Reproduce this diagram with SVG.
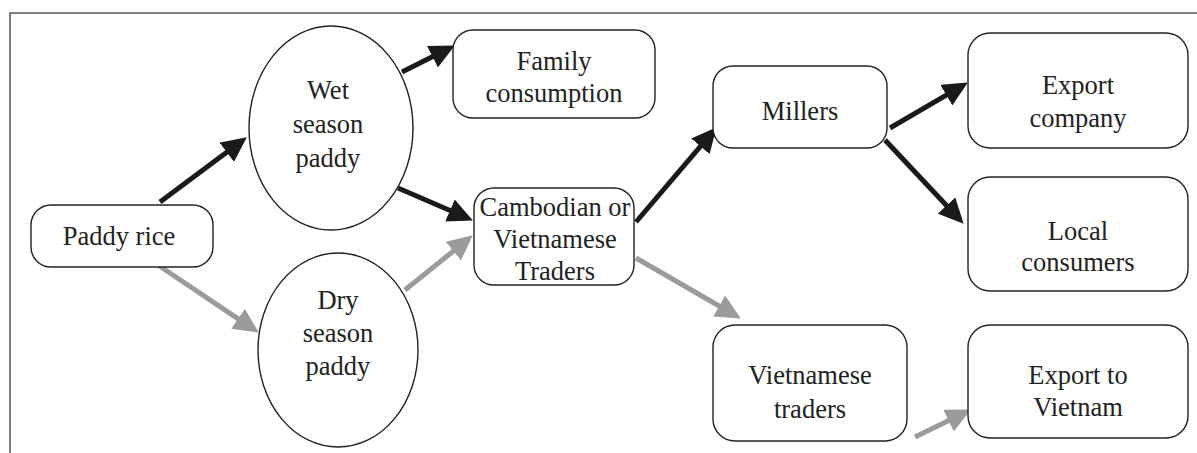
<svg xmlns="http://www.w3.org/2000/svg" width="1197" height="453" viewBox="0 0 1197 453">
<style>
.box{fill:#fff;stroke:#222;stroke-width:1.4}
.t{font-family:"Liberation Serif","Times New Roman",serif;font-size:26.5px;fill:#222;text-anchor:middle}
.blk{stroke:#1a1a1a;stroke-width:5;fill:none}
.gry{stroke:#9b9b9d;stroke-width:5;fill:none}
.frame{stroke:#5a5a5a;stroke-width:1.6;fill:none}
</style>
<defs>
<marker id="hb" markerUnits="userSpaceOnUse" markerWidth="25" markerHeight="24" refX="2" refY="12" orient="auto"><path d="M0,0 L25,12 L0,24 z" fill="#1a1a1a"/></marker>
<marker id="hg" markerUnits="userSpaceOnUse" markerWidth="25" markerHeight="24" refX="2" refY="12" orient="auto"><path d="M0,0 L25,12 L0,24 z" fill="#9b9b9d"/></marker>
</defs>
<rect width="1197" height="453" fill="#fff"/>
<path class="frame" d="M10,453 V13 H1197"/>
<g id="connectors">
<line class="blk" x1="160" y1="202" x2="228.4" y2="151.1" marker-end="url(#hb)"/>
<line class="blk" x1="402" y1="72" x2="434.3" y2="55.8" marker-end="url(#hb)"/>
<line class="blk" x1="398" y1="188" x2="451.8" y2="211.3" marker-end="url(#hb)"/>
<line class="blk" x1="636" y1="222" x2="701.7" y2="144.8" marker-end="url(#hb)"/>
<line class="blk" x1="890" y1="128" x2="948" y2="94.1" marker-end="url(#hb)"/>
<line class="blk" x1="885" y1="140" x2="947.9" y2="207" marker-end="url(#hb)"/>
<line class="gry" x1="158" y1="265" x2="239.7" y2="319.8" marker-end="url(#hg)"/>
<line class="gry" x1="405" y1="290" x2="454.9" y2="249.8" marker-end="url(#hg)"/>
<line class="gry" x1="636" y1="258" x2="720.9" y2="307" marker-end="url(#hg)"/>
<line class="gry" x1="915" y1="437" x2="950.3" y2="419.7" marker-end="url(#hg)"/>
</g>
<g id="paddy-rice"><rect class="box" x="31" y="205" width="182" height="62" rx="20"/><text class="t" x="119" y="245">Paddy rice</text></g>
<g id="wet-season"><ellipse class="box" cx="331" cy="128" rx="82" ry="102"/><text class="t" x="328" y="99">Wet</text><text class="t" x="328" y="133">season</text><text class="t" x="328" y="167">paddy</text></g>
<g id="dry-season"><ellipse class="box" cx="338" cy="350" rx="80" ry="97"/><text class="t" x="338" y="309">Dry</text><text class="t" x="338" y="342">season</text><text class="t" x="338" y="375">paddy</text></g>
<g id="family"><rect class="box" x="453" y="30" width="202" height="88" rx="20"/><text class="t" x="554" y="70">Family</text><text class="t" x="554" y="102">consumption</text></g>
<g id="traders"><rect class="box" x="474" y="188" width="160" height="97" rx="20"/><text class="t" x="555" y="216">Cambodian or</text><text class="t" x="555" y="248">Vietnamese</text><text class="t" x="555" y="280">Traders</text></g>
<g id="millers"><rect class="box" x="713" y="66" width="174" height="82" rx="20"/><text class="t" x="800" y="120">Millers</text></g>
<g id="export-company"><rect class="box" x="968" y="33" width="220" height="115" rx="22"/><text class="t" x="1078" y="94">Export</text><text class="t" x="1078" y="127">company</text></g>
<g id="local-consumers"><rect class="box" x="968" y="177" width="220" height="114" rx="22"/><text class="t" x="1078" y="240">Local</text><text class="t" x="1078" y="271">consumers</text></g>
<g id="vietnamese-traders"><rect class="box" x="713" y="325" width="194" height="116" rx="22"/><text class="t" x="810" y="384">Vietnamese</text><text class="t" x="810" y="418">traders</text></g>
<g id="export-vietnam"><rect class="box" x="968" y="325" width="220" height="113" rx="22"/><text class="t" x="1078" y="384">Export to</text><text class="t" x="1078" y="416">Vietnam</text></g>
</svg>
